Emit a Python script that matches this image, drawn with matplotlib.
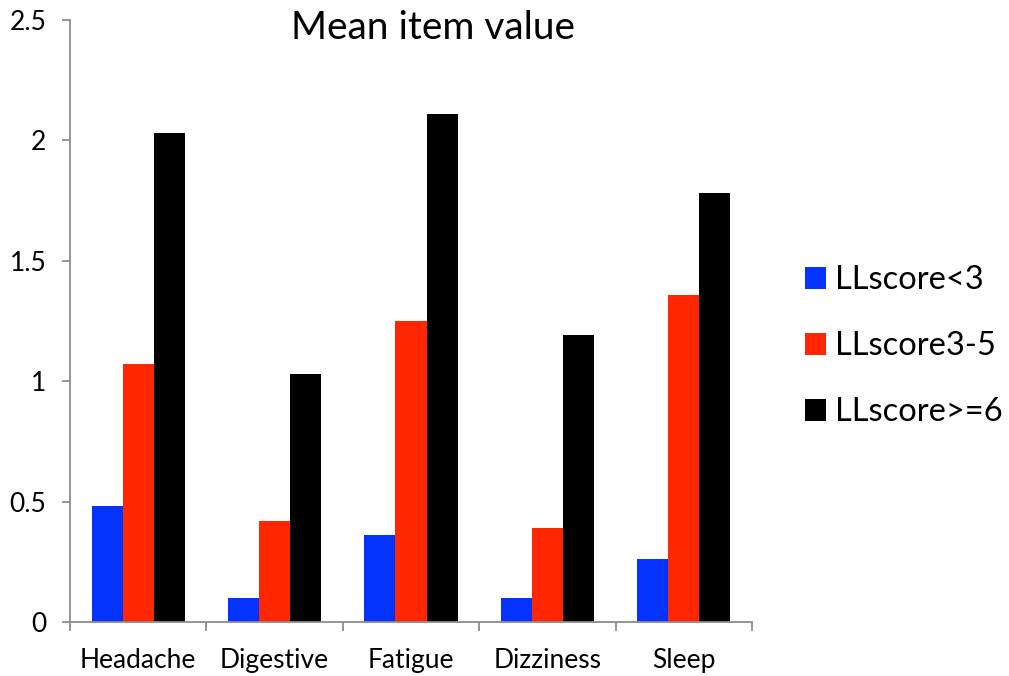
import matplotlib
matplotlib.use("Agg")
import matplotlib.pyplot as plt
import numpy as np

categories = ["Headache", "Digestive", "Fatigue", "Dizziness", "Sleep"]
series_names = ["LLscore<3", "LLscore3-5", "LLscore>=6"]
low = [0.48, 0.10, 0.36, 0.10, 0.26]
mid = [1.07, 0.42, 1.25, 0.39, 1.36]
high = [2.03, 1.03, 2.11, 1.19, 1.78]
colors = ["#0433FF", "#FF2600", "#000000"]

plt.rcParams['font.family'] = ['Lato', 'DejaVu Sans']

fig = plt.figure(figsize=(10.09, 6.76), dpi=100)
ax = fig.add_axes([0.0694, 0.0799, 0.6759, 0.8905])

x = np.arange(len(categories))
w = 0.228
for i, (vals, name, c) in enumerate(zip([low, mid, high], series_names, colors)):
    ax.bar(x + (i - 1) * w, vals, w, color=c, label=name)

ax.set_xlim(-0.5, len(categories) - 0.5)
ax.set_ylim(0, 2.5)
ax.set_yticks([0, 0.5, 1, 1.5, 2, 2.5])
ax.set_yticklabels(["0", "0.5", "1", "1.5", "2", "2.5"])
ax.set_xticks(x)
ax.set_xticklabels(categories)
ax.set_xticks(np.arange(len(categories) + 1) - 0.5, minor=True)

for s in ["top", "right"]:
    ax.spines[s].set_visible(False)
for s in ["left", "bottom"]:
    ax.spines[s].set_color("#8c8c8c")
    ax.spines[s].set_linewidth(1.3)

ax.tick_params(axis="x", which="major", length=0, labelsize=19, pad=19)
ax.tick_params(axis="x", which="minor", length=6.5, color="#8c8c8c", width=1.3)
ax.tick_params(axis="y", length=6, color="#8c8c8c", width=1.3, labelsize=19, pad=11)

fig.text(0.429, 0.958, "Mean item value", ha="center", va="center", fontsize=28)

ax.legend(loc="center left", bbox_to_anchor=(1.078, 0.458), frameon=False,
          fontsize=23.5, handlelength=0.65, handleheight=0.65, handletextpad=0.25,
          labelspacing=1.1, borderpad=0, borderaxespad=0)

fig.savefig("out.png", dpi=100)
